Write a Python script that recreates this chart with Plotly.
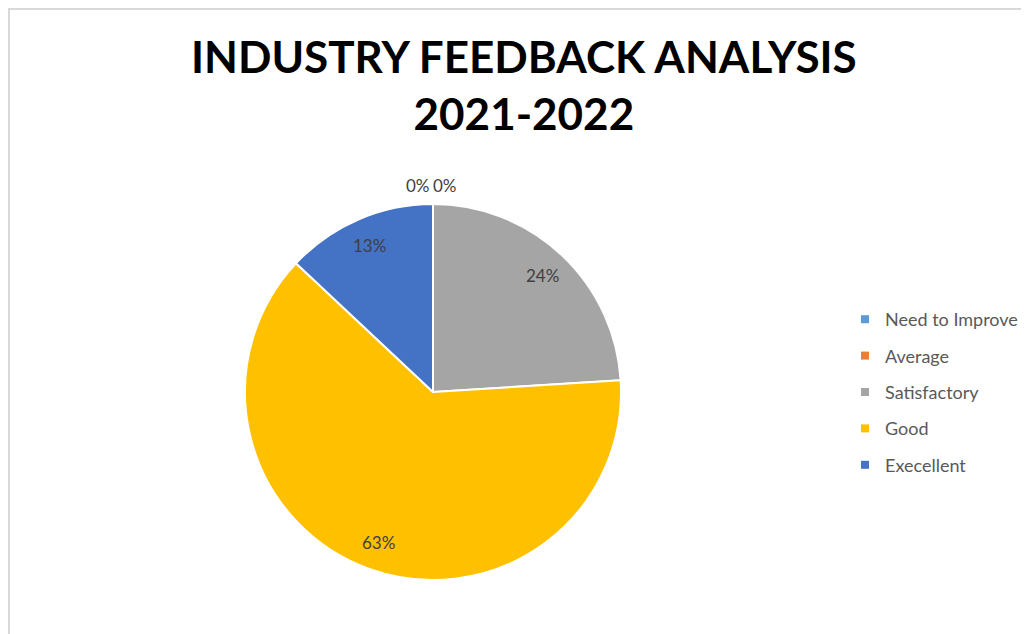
import math
import plotly.graph_objects as go

categories = ["Need to Improve", "Average", "Satisfactory", "Good", "Execellent"]
values = [0, 0, 24, 63, 13]
colors = ["#5B9BD5", "#ED7D31", "#A5A5A5", "#FFC000", "#4472C4"]
title_lines = ["INDUSTRY FEEDBACK ANALYSIS", "2021-2022"]

W, H = 1029, 634
OFF = 8  # page body margin
cx, cy, r = 433 - OFF, 392 - OFF, 188

fig = go.Figure()
fig.add_trace(go.Pie(
    labels=categories, values=values, sort=False, direction="clockwise", rotation=0,
    marker=dict(colors=colors, line=dict(color="white", width=2)),
    textinfo="none", hoverinfo="label+percent", showlegend=False,
    domain=dict(x=[(cx - r) / W, (cx + r) / W], y=[1 - (cy + r) / H, 1 - (cy - r) / H]),
))

# legend via dummy traces for spacing
for cat, col in zip(categories, colors):
    fig.add_trace(go.Scatter(x=[None], y=[None], mode="markers", name=cat,
                             legendgroup=cat,
                             marker=dict(symbol="square", size=8, color=col)))

# percentage labels computed from values
total = sum(values)
cum = 0
zero_idx = 0
for v in values:
    pct = round(100 * v / total)
    mid = (cum + v / 2) / total * 2 * math.pi
    cum += v
    if v > 0:
        rr = 0.85 * r
        px = cx + rr * math.sin(mid)
        py = cy - rr * math.cos(mid)
    else:
        rr = 1.1 * r
        px = cx + rr * math.sin(mid) + (-15 if zero_idx == 0 else 12)
        py = cy - rr * math.cos(mid)
        zero_idx += 1
    fig.add_annotation(x=px / W, y=1 - py / H, xref="paper", yref="paper",
                       xanchor="center", yanchor="middle",
                       text=f"{pct}%", showarrow=False,
                       font=dict(family="Lato", size=17, color="#404040"))

# title
fig.add_annotation(x=(524 - OFF) / W, y=1 - 20 / H, xref="paper", yref="paper",
                   xanchor="center", yanchor="top", showarrow=False,
                   text="<br>".join(f"<b>{t}</b>" for t in title_lines),
                   font=dict(family="Lato", size=44, color="black"))

fig.add_shape(type="rect", xref="paper", yref="paper",
              x0=1 / W, x1=1.02, y0=-0.05, y1=1 - 1 / H,
              line=dict(color="#D9D9D9", width=2), layer="below")

fig.update_layout(
    width=W, height=H,
    margin=dict(l=0, r=0, t=0, b=0),
    paper_bgcolor="white", plot_bgcolor="white",
    xaxis=dict(visible=False), yaxis=dict(visible=False),
    legend=dict(x=837 / W, xanchor="left", y=1 - 293 / H, yanchor="top",
                tracegroupgap=10, font=dict(family="Lato", size=18, color="#595959"),
                itemwidth=30, bgcolor="rgba(0,0,0,0)"),
)

fig.write_html("out.html")
